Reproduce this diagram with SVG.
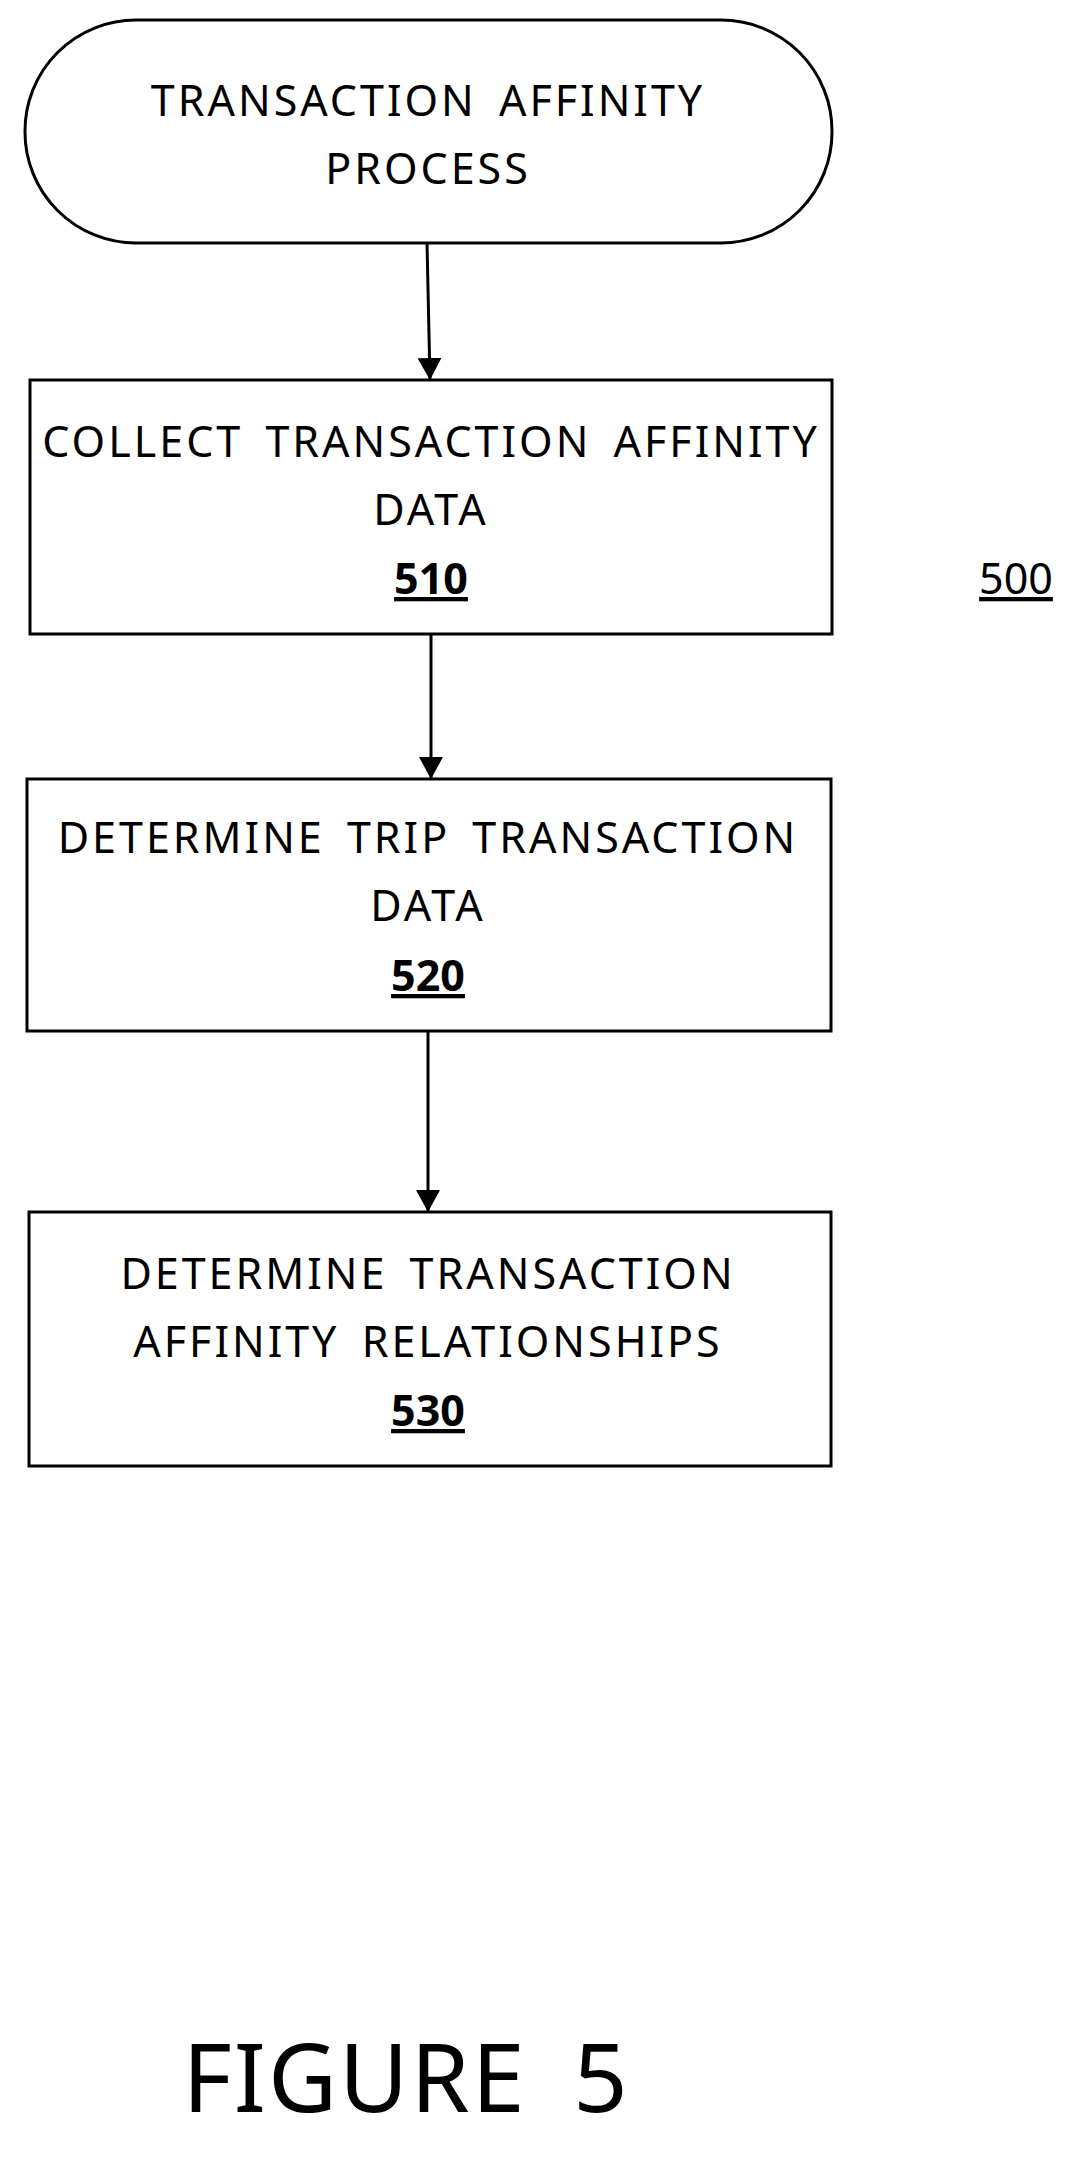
<svg xmlns="http://www.w3.org/2000/svg" width="1091" height="2164" viewBox="0 0 1091 2164">
<style>
.s{fill:#fff;stroke:#000;stroke-width:3}
.t{font-family:"Noto Sans",sans-serif;font-size:43px;fill:#000;text-anchor:middle;letter-spacing:3px;word-spacing:8px}
.n{font-weight:bold;text-decoration:underline;letter-spacing:0}
.c{stroke:#000;stroke-width:3;fill:none}
</style>
<defs>
<marker id="b" markerWidth="22" markerHeight="24" refX="22" refY="12" orient="auto" markerUnits="userSpaceOnUse"><path d="M0,0L22,12L0,24z" fill="#000"/></marker></defs>
<g id="start"><rect class="s" x="25" y="20" width="807" height="223" rx="111"/>
<text class="t" x="428" y="116">TRANSACTION AFFINITY</text><text class="t" x="428" y="184">PROCESS</text></g>
<g id="n510"><rect class="s" x="30" y="380" width="802" height="254"/>
<text class="t" x="431" y="457">COLLECT TRANSACTION AFFINITY</text><text class="t" x="431" y="525">DATA</text><text class="t n" x="431" y="594">510</text></g>
<g id="n520"><rect class="s" x="27" y="779" width="804" height="252"/>
<text class="t" x="428" y="853">DETERMINE TRIP TRANSACTION</text><text class="t" x="428" y="921">DATA</text><text class="t n" x="428" y="991">520</text></g>
<g id="n530"><rect class="s" x="29" y="1212" width="802" height="254"/>
<text class="t" x="428" y="1289">DETERMINE TRANSACTION</text><text class="t" x="428" y="1357">AFFINITY RELATIONSHIPS</text><text class="t n" x="428" y="1426">530</text></g>
<g id="connectors">
<line class="c" x1="427" y1="243" x2="430" y2="380" marker-end="url(#b)"/>
<line class="c" x1="431" y1="634" x2="431" y2="779" marker-end="url(#b)"/>
<line class="c" x1="428" y1="1031" x2="428" y2="1212" marker-end="url(#b)"/>
</g>
<text class="t" x="1016" y="594" style="text-decoration:underline;letter-spacing:0">500</text>
<text class="t" x="406" y="2112" style="font-size:95px;letter-spacing:2px;word-spacing:20px">FIGURE 5</text>
</svg>
